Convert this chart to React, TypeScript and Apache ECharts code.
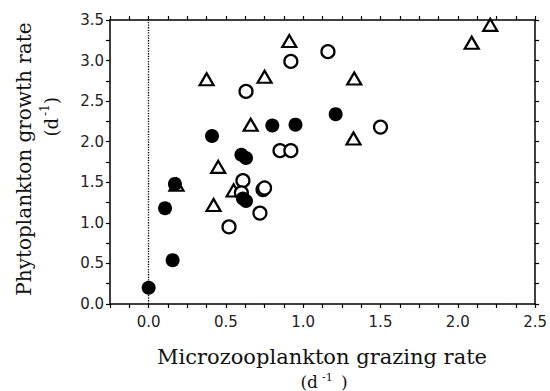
import React, { useEffect, useRef } from "react";
import * as echarts from "echarts";

const triangleX = [0.18, 0.42, 0.45, 0.55, 0.66, 0.375, 0.75, 0.91, 1.33, 1.325, 2.09, 2.21];
const triangleY = [1.47, 1.22, 1.69, 1.40, 2.21, 2.77, 2.80, 3.24, 2.78, 2.04, 3.22, 3.44];

const openX = [0.52, 0.72, 0.61, 0.60, 0.74, 0.75, 0.85, 0.92, 1.50, 0.63, 0.92, 1.16];
const openY = [0.95, 1.12, 1.52, 1.37, 1.41, 1.43, 1.89, 1.89, 2.18, 2.62, 2.99, 3.11];

const filledX = [0.0, 0.155, 0.106, 0.17, 0.41, 0.60, 0.63, 0.61, 0.63, 0.80, 0.95, 1.21];
const filledY = [0.20, 0.54, 1.18, 1.48, 2.07, 1.84, 1.80, 1.30, 1.27, 2.20, 2.21, 2.34];

const xTitle = "Microzooplankton grazing rate";
const yTitle = "Phytoplankton growth rate";

const zip = (xs: number[], ys: number[]) => xs.map((x, i) => [x, ys[i]]);

const fmtHalf = (v: number) => {
  const r = v / 0.5;
  if (Math.abs(r - Math.round(r)) < 1e-6 && v >= -1e-9) return Math.abs(v).toFixed(1);
  return "";
};

export default function App() {
  const ref = useRef<HTMLDivElement>(null);
  useEffect(() => {
    document.body.style.margin = "0";
    const chart = echarts.init(ref.current!, null, { renderer: "svg" });
    const axisLine = { show: true, onZero: false, lineStyle: { color: "#000", width: 1.5 } };
    const axisTick = { show: true, length: 4, inside: false, lineStyle: { color: "#000", width: 1.2 } };
    const labelStyle = { color: "#222", fontFamily: "DejaVu Sans", fontSize: 15 };
    const serif = "DejaVu Serif";
    chart.setOption({
      animation: false,
      backgroundColor: "#fff",
      grid: { left: 110, right: 14, top: 20, bottom: 87 },
      xAxis: [
        {
          type: "value", min: -0.25, max: 2.5, interval: 0.125, position: "bottom",
          axisLine, axisTick, splitLine: { show: false },
          axisLabel: { ...labelStyle, margin: 10, formatter: fmtHalf, showMinLabel: true, showMaxLabel: true },
        },
        {
          type: "value", min: -0.25, max: 2.5, interval: 0.125, position: "top",
          axisLine, axisTick, splitLine: { show: false }, axisLabel: { show: false },
        },
      ],
      yAxis: [
        {
          type: "value", min: 0, max: 3.5, interval: 0.25, position: "left",
          axisLine, axisTick, splitLine: { show: false },
          axisLabel: { ...labelStyle, margin: 6, formatter: fmtHalf },
        },
        {
          type: "value", min: 0, max: 3.5, interval: 0.25, position: "right",
          axisLine, axisTick, splitLine: { show: false }, axisLabel: { show: false },
        },
      ],
      series: [
        {
          type: "scatter", name: "triangles", data: zip(triangleX, triangleY),
          symbol: "triangle", symbolSize: [14, 12],
          itemStyle: { color: "#fff", borderColor: "#000", borderWidth: 2.2, opacity: 1 },
          markLine: {
            silent: true, symbol: ["none", "none"], label: { show: false },
            lineStyle: { type: "dotted", color: "#000", width: 1.3 },
            data: [{ xAxis: 0 }],
          },
        },
        {
          type: "scatter", name: "open", data: zip(openX, openY),
          symbol: "circle", symbolSize: 13,
          itemStyle: { color: "#fff", borderColor: "#000", borderWidth: 2.2, opacity: 1 },
        },
        {
          type: "scatter", name: "filled", data: zip(filledX, filledY),
          symbol: "circle", symbolSize: 14,
          itemStyle: { color: "#000", opacity: 1 },
        },
      ],
      graphic: [
        {
          type: "text", x: 322, y: 357,
          style: { text: xTitle, font: `21px '${serif}'`, fill: "#111", align: "center", verticalAlign: "middle" },
        },
        {
          type: "text", x: 318, y: 382,
          style: { text: "(d", font: `17px '${serif}'`, fill: "#111", align: "right", verticalAlign: "middle" },
        },
        {
          type: "text", x: 322, y: 377,
          style: { text: "-1", font: `11px '${serif}'`, fill: "#111", align: "left", verticalAlign: "middle" },
        },
        {
          type: "text", x: 341, y: 382,
          style: { text: ")", font: `17px '${serif}'`, fill: "#111", align: "left", verticalAlign: "middle" },
        },
        {
          type: "group", x: 24, y: 159, rotation: Math.PI / 2,
          children: [
            {
              type: "text", x: 0, y: 0,
              style: { text: yTitle, font: `20px '${serif}'`, fill: "#111", align: "center", verticalAlign: "middle" },
            },
            {
              type: "text", x: 41, y: 27,
              style: { text: "(d", font: `18px '${serif}'`, fill: "#111", align: "right", verticalAlign: "middle" },
            },
            {
              type: "text", x: 43, y: 21,
              style: { text: "-1", font: `12px '${serif}'`, fill: "#111", align: "left", verticalAlign: "middle" },
            },
            {
              type: "text", x: 55, y: 27,
              style: { text: ")", font: `18px '${serif}'`, fill: "#111", align: "left", verticalAlign: "middle" },
            },
          ],
        },
      ],
    });
    return () => chart.dispose();
  }, []);
  return <div ref={ref} style={{ width: 550, height: 391 }} />;
}
